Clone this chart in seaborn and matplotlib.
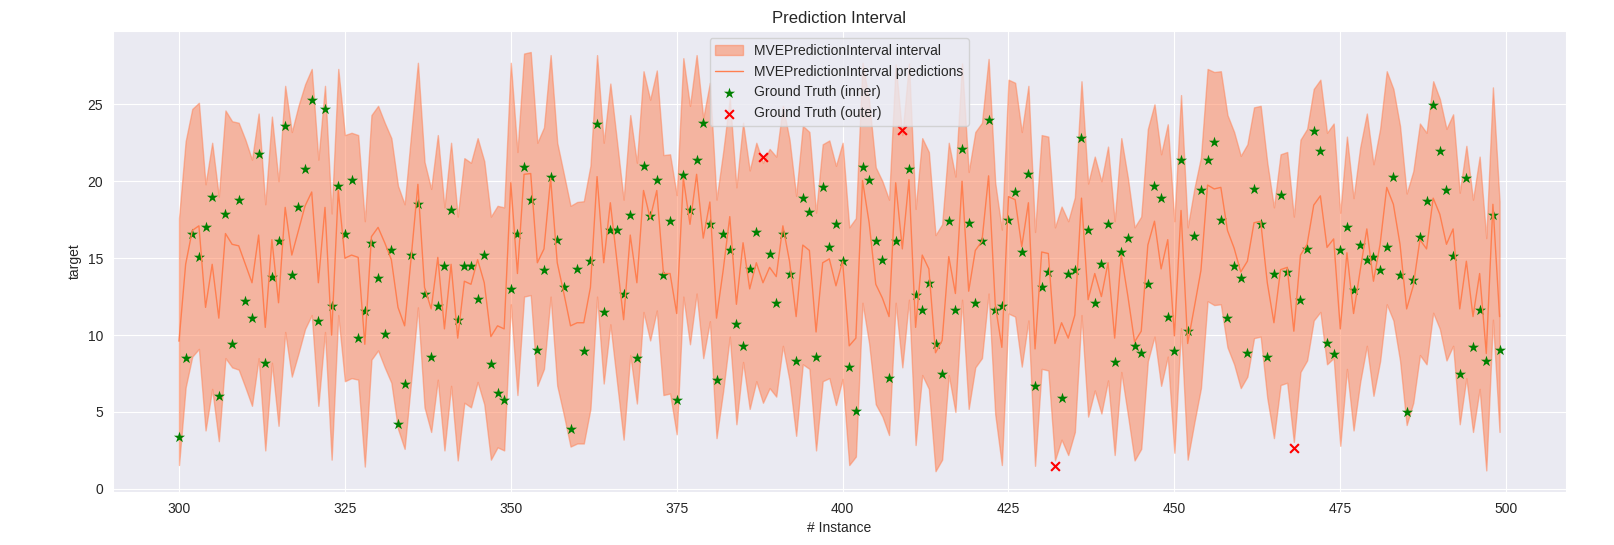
import numpy as np
import pandas as pd
import matplotlib
matplotlib.use("Agg")
import matplotlib.pyplot as plt
import seaborn as sns

# instances 300..499
instance = list(range(300, 500))

ground_truth = [
    3.4, 8.5, 16.6, 15.1, 17.0, 19.0, 6.05, 17.9, 9.4, 18.8,
    12.2, 11.1, 21.8, 8.2, 13.8, 16.1, 23.6, 13.9, 18.3, 20.8,
    25.3, 10.9, 24.7, 11.9, 19.7, 16.6, 20.1, 9.8, 11.55, 16.0,
    13.7, 10.1, 15.55, 4.2, 6.8, 15.2, 18.5, 12.7, 8.6, 11.9,
    14.5, 18.1, 11.0, 14.5, 14.5, 12.35, 15.2, 8.1, 6.2, 5.75,
    13.0, 16.6, 20.9, 18.8, 9.0, 14.2, 20.3, 16.2, 13.15, 3.9,
    14.3, 8.95, 14.8, 23.7, 11.5, 16.85, 16.85, 12.7, 17.8, 8.5,
    21.0, 17.75, 20.1, 13.9, 17.4, 5.75, 20.4, 18.1, 21.4, 23.8,
    17.2, 7.05, 16.55, 15.55, 10.7, 9.3, 14.3, 16.7, 21.6, 15.3,
    12.1, 16.55, 14.0, 8.3, 18.9, 18.0, 8.55, 19.6, 15.75, 17.2,
    14.8, 7.9, 5.05, 20.9, 20.1, 16.1, 14.9, 7.2, 16.1, 23.3,
    20.8, 12.6, 11.6, 13.4, 9.4, 7.5, 17.4, 11.6, 22.1, 17.3,
    12.1, 16.1, 24.0, 11.65, 11.9, 17.5, 19.3, 15.4, 20.5, 6.7,
    13.15, 14.1, 1.5, 5.9, 14.0, 14.2, 22.8, 16.85, 12.1, 14.6,
    17.25, 8.25, 15.4, 16.3, 9.3, 8.85, 13.35, 19.7, 18.9, 11.2,
    8.95, 21.35, 10.25, 16.45, 19.45, 21.4, 22.55, 17.5, 11.1, 14.5,
    13.7, 8.85, 19.5, 17.2, 8.6, 14.0, 19.1, 14.1, 2.65, 12.25,
    15.6, 23.25, 21.95, 9.5, 8.75, 15.55, 17.05, 12.9, 15.85, 14.9,
    15.1, 14.2, 15.7, 20.3, 13.9, 5.0, 13.6, 16.35, 18.7, 24.95,
    21.95, 19.4, 15.15, 7.45, 20.2, 9.2, 11.65, 8.3, 17.8, 9.0,
]

predictions = [
    9.6, 14.6, 16.8, 17.1, 11.8, 14.6, 11.1, 16.6, 15.9, 15.8,
    14.6, 13.4, 16.5, 10.5, 16.2, 12.1, 18.3, 15.2, 16.8, 18.4,
    19.3, 13.4, 18.3, 10.0, 19.4, 15.0, 15.2, 15.05, 9.4, 16.4,
    17.0, 16.0, 14.9, 11.8, 10.6, 15.1, 19.8, 13.1, 11.7, 15.05,
    10.4, 14.6, 9.8, 13.5, 13.3, 14.9, 13.4, 9.9, 10.6, 10.4,
    19.9, 14.0, 20.45, 20.5, 14.7, 15.6, 20.2, 14.7, 12.7, 10.6,
    10.8, 10.8, 13.1, 20.3, 14.7, 18.6, 14.8, 11.0, 16.5, 13.4,
    19.4, 17.6, 19.4, 14.0, 14.0, 11.4, 20.2, 17.2, 20.45, 16.3,
    18.65, 11.1, 14.2, 17.7, 12.0, 16.0, 13.0, 14.7, 13.4, 14.4,
    13.8, 17.1, 14.8, 11.2, 15.85, 15.5, 10.2, 14.7, 14.95, 13.2,
    14.8, 9.3, 9.8, 20.05, 17.3, 13.3, 12.4, 11.2, 19.9, 15.6,
    20.1, 10.5, 15.2, 14.3, 8.85, 9.65, 15.1, 12.7, 20.0, 12.85,
    15.5, 16.1, 20.35, 12.0, 9.2, 19.0, 18.8, 15.75, 18.6, 9.1,
    15.4, 15.3, 9.45, 10.8, 9.8, 11.3, 18.9, 12.3, 14.0, 12.5,
    14.7, 9.8, 15.2, 12.5, 9.55, 10.25, 15.85, 17.4, 14.3, 16.2,
    9.95, 18.1, 9.45, 11.8, 14.2, 19.75, 19.5, 19.6, 16.8, 15.65,
    14.1, 14.8, 17.3, 17.4, 13.4, 10.8, 14.25, 14.4, 10.25, 15.2,
    15.9, 18.45, 19.05, 15.7, 16.25, 10.4, 15.35, 11.4, 14.2, 16.9,
    13.5, 15.9, 19.6, 18.5, 15.9, 11.7, 13.2, 16.2, 15.6, 18.9,
    17.85, 15.9, 16.9, 11.7, 14.8, 11.2, 14.0, 8.8, 18.5, 11.2,
]

upper = [
    17.6, 22.6, 24.7, 25.1, 19.8, 22.5, 19.0, 24.6, 23.9, 23.8,
    22.7, 21.4, 24.4, 18.5, 24.2, 20.0, 26.2, 23.2, 24.9, 26.3,
    27.3, 21.4, 26.2, 17.9, 27.3, 23.0, 23.15, 23.0, 17.4, 24.3,
    24.9, 23.8, 22.8, 19.7, 18.5, 23.15, 27.7, 21.25, 19.5, 23.0,
    18.3, 22.5, 17.7, 21.5, 21.2, 22.8, 21.3, 17.7, 18.4, 18.3,
    27.7, 21.9, 28.3, 28.4, 22.5, 23.5, 28.2, 22.5, 20.45, 18.4,
    18.65, 18.7, 21.0, 28.2, 22.5, 26.35, 22.6, 18.8, 24.3, 21.2,
    27.15, 25.3, 27.2, 21.7, 21.75, 19.1, 28.0, 24.9, 28.2, 24.1,
    26.4, 18.8, 21.9, 25.4, 19.6, 23.8, 20.7, 22.5, 21.2, 22.1,
    21.6, 24.9, 22.7, 19.05, 23.6, 23.2, 17.95, 22.4, 22.65, 21.0,
    22.5, 17.0, 17.6, 27.7, 25.2, 20.9, 20.0, 18.8, 27.6, 23.0,
    27.65, 18.2, 22.8, 21.9, 16.5, 17.2, 22.5, 20.3, 27.65, 20.6,
    23.2, 23.8, 27.95, 19.9, 16.85, 26.6, 26.4, 23.2, 26.2, 16.7,
    23.0, 22.9, 17.0, 18.35, 17.4, 18.95, 26.5, 19.85, 21.6, 20.0,
    22.25, 17.4, 22.8, 20.2, 17.0, 17.7, 23.4, 25.0, 21.75, 23.7,
    17.4, 25.6, 17.0, 19.5, 21.55, 27.3, 27.1, 27.15, 24.3, 23.2,
    21.65, 22.4, 24.8, 24.9, 21.2, 18.3, 21.75, 21.9, 17.7, 22.7,
    23.4, 26.0, 26.6, 23.15, 23.75, 17.95, 22.9, 18.9, 22.2, 24.4,
    21.1, 23.4, 27.15, 26.0, 23.6, 19.2, 20.65, 23.75, 23.15, 26.5,
    25.35, 23.4, 24.35, 19.25, 22.3, 18.8, 21.6, 16.3, 26.1, 18.7,
]

lower = [
    1.55, 6.6, 8.6, 9.1, 3.8, 6.5, 3.1, 8.5, 7.9, 7.75,
    6.6, 5.4, 8.5, 2.5, 8.2, 4.1, 10.2, 7.3, 8.8, 10.4,
    11.3, 5.4, 10.2, 1.9, 11.3, 7.0, 7.2, 7.1, 1.45, 8.4,
    9.0, 7.9, 6.9, 3.9, 2.6, 7.1, 11.8, 5.3, 3.7, 7.1,
    2.5, 6.7, 1.85, 5.6, 5.3, 6.95, 5.5, 1.9, 2.7, 2.5,
    12.0, 6.1, 12.5, 12.6, 6.7, 7.8, 12.5, 6.7, 4.8, 2.75,
    2.95, 2.95, 5.2, 12.5, 6.85, 10.7, 6.95, 3.2, 8.7, 5.55,
    11.5, 9.65, 11.6, 6.1, 6.2, 3.55, 12.5, 9.4, 12.7, 8.5,
    10.9, 3.3, 6.35, 9.9, 4.2, 8.25, 5.2, 7.0, 5.6, 6.55,
    6.0, 9.3, 7.05, 3.45, 8.1, 7.8, 2.5, 7.0, 7.2, 5.45,
    7.15, 1.55, 2.1, 12.1, 9.45, 5.5, 4.7, 3.5, 12.1, 7.9,
    12.3, 2.85, 7.4, 6.5, 1.15, 1.9, 7.4, 5.0, 12.3, 5.2,
    7.9, 8.5, 12.7, 4.85, 1.55, 11.4, 11.2, 7.95, 10.95, 1.5,
    7.8, 7.7, 1.85, 3.2, 2.2, 3.7, 11.3, 4.7, 6.4, 4.9,
    7.05, 2.2, 7.6, 4.8, 1.85, 2.6, 8.3, 9.9, 6.7, 8.6,
    2.35, 10.45, 1.9, 4.3, 6.55, 12.2, 11.95, 12.0, 9.2, 8.1,
    6.55, 7.3, 9.8, 9.9, 5.9, 3.3, 6.75, 6.9, 3.05, 7.6,
    8.35, 10.95, 11.5, 8.1, 8.5, 2.8, 7.8, 3.8, 6.95, 9.3,
    6.05, 8.3, 12.0, 10.95, 8.35, 4.15, 5.6, 8.7, 8.1, 11.45,
    10.4, 8.35, 9.3, 4.2, 7.2, 3.7, 6.5, 1.2, 11.0, 3.7,
]

df = pd.DataFrame({
    "instance": instance,
    "target": ground_truth,
    "pred": predictions,
    "lower": lower,
    "upper": upper,
})
outside = (df["target"] < df["lower"]) | (df["target"] > df["upper"])
inner = df[~outside]
outer = df[outside]

sns.set_style("darkgrid")
plt.rcParams["font.family"] = ["Liberation Sans", "DejaVu Sans"]
fig, ax = plt.subplots(figsize=(16.14, 5.45), dpi=100)

ax.fill_between(df["instance"], df["lower"], df["upper"],
                color="coral", alpha=0.5,
                label="MVEPredictionInterval interval")
sns.lineplot(data=df, x="instance", y="pred", ax=ax,
             color="coral", linewidth=1,
             label="MVEPredictionInterval predictions")
sns.scatterplot(data=inner, x="instance", y="target", ax=ax,
                marker="*", color="green", s=70, linewidth=0,
                label="Ground Truth (inner)")
sns.scatterplot(data=outer, x="instance", y="target", ax=ax,
                marker="x", color="red", s=40, linewidth=1.5,
                label="Ground Truth (outer)")

ax.set_title("Prediction Interval")
ax.set_xlabel("# Instance")
ax.set_ylabel("target")
ax.legend(loc="upper center")

fig.subplots_adjust(left=0.07, right=0.97, top=0.943, bottom=0.097)
plt.savefig("out.png", dpi=100)
